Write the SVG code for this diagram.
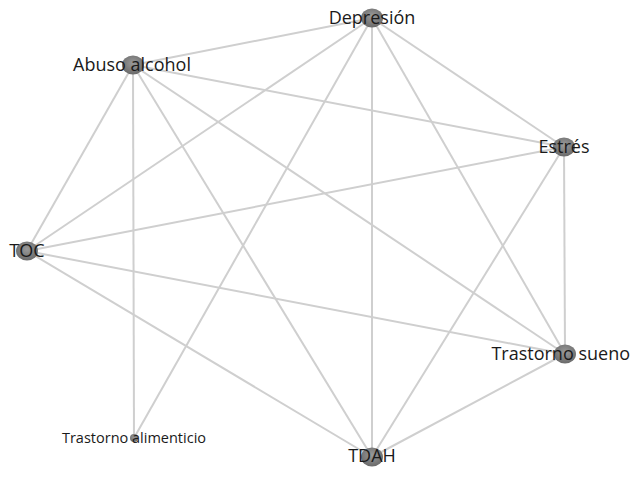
<svg xmlns="http://www.w3.org/2000/svg" width="632" height="495" viewBox="0 0 632 495">
<style>
.e{stroke:#cfcfcf;stroke-width:2;fill:none}
.n{fill:url(#g)}
.t{font-family:"Open Sans","Noto Sans",sans-serif;font-size:18px;fill:#1a1a1a;text-anchor:middle}
.s{font-size:14.5px}
</style>
<defs>
<radialGradient id="g" cx="50%" cy="40%" r="60%">
<stop offset="0" stop-color="#9a9a9a"/>
<stop offset="1" stop-color="#6a6a6a"/>
</radialGradient>
</defs>
<rect width="632" height="495" fill="#fff"/>
<g id="edges">
<line class="e" x1="372" y1="18" x2="133" y2="65"/>
<line class="e" x1="372" y1="18" x2="564" y2="147"/>
<line class="e" x1="372" y1="18" x2="27" y2="251"/>
<line class="e" x1="372" y1="18" x2="134" y2="438"/>
<line class="e" x1="372" y1="18" x2="372" y2="457"/>
<line class="e" x1="372" y1="18" x2="565" y2="354"/>
<line class="e" x1="133" y1="65" x2="564" y2="147"/>
<line class="e" x1="133" y1="65" x2="27" y2="251"/>
<line class="e" x1="133" y1="65" x2="134" y2="438"/>
<line class="e" x1="133" y1="65" x2="372" y2="457"/>
<line class="e" x1="133" y1="65" x2="565" y2="354"/>
<line class="e" x1="564" y1="147" x2="27" y2="251"/>
<line class="e" x1="564" y1="147" x2="565" y2="354"/>
<line class="e" x1="564" y1="147" x2="372" y2="457"/>
<line class="e" x1="27" y1="251" x2="565" y2="354"/>
<line class="e" x1="27" y1="251" x2="372" y2="457"/>
<line class="e" x1="565" y1="354" x2="372" y2="457"/>
</g>
<g id="depresion"><ellipse class="n" cx="372" cy="18" rx="11" ry="9.5"/><text class="t" x="372" y="24">Depresión</text></g>
<g id="abuso-alcohol"><ellipse class="n" cx="133" cy="65" rx="11" ry="9.5"/><text class="t" x="132" y="70.5">Abuso alcohol</text></g>
<g id="estres"><ellipse class="n" cx="564" cy="147" rx="11" ry="9.5"/><text class="t" x="564" y="153">Estrés</text></g>
<g id="toc"><ellipse class="n" cx="27" cy="251" rx="11" ry="9.5"/><text class="t" x="27" y="257">TOC</text></g>
<g id="trastorno-sueno"><ellipse class="n" cx="565" cy="354" rx="11" ry="9.5"/><text class="t" x="630" y="360" style="text-anchor:end">Trastorno sueno</text></g>
<g id="trastorno-alimenticio"><circle class="n" cx="134" cy="438" r="4"/><text class="t s" x="134" y="442.5">Trastorno alimenticio</text></g>
<g id="tdah"><ellipse class="n" cx="372" cy="457" rx="11" ry="9.5"/><text class="t" x="372" y="462">TDAH</text></g>
</svg>
